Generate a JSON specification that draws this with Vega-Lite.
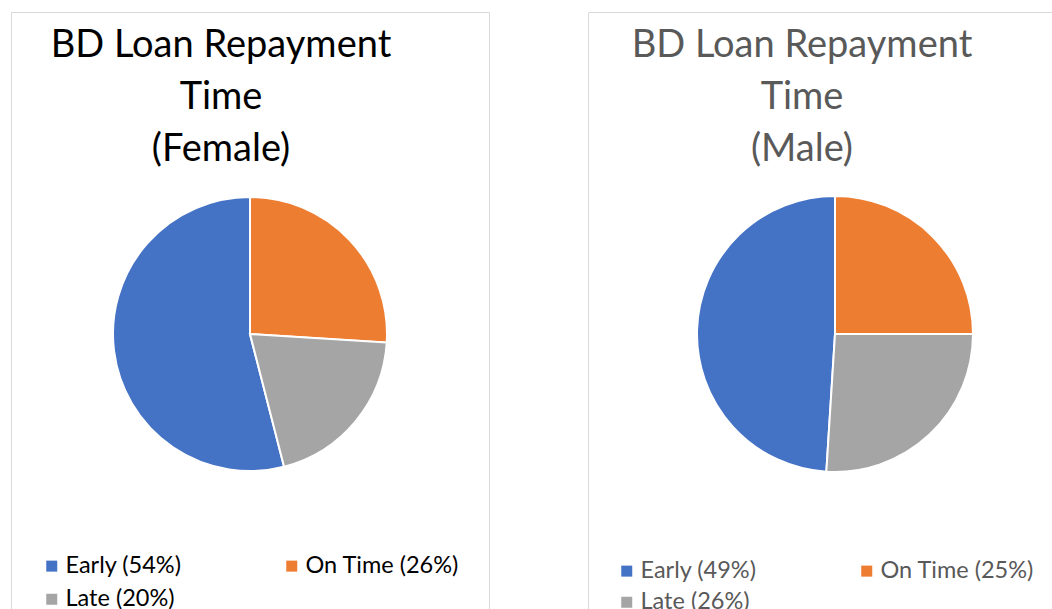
{
  "$schema": "https://vega.github.io/schema/vega-lite/v6.json",
  "background": "white",
  "padding": {"left": 10, "top": 11, "right": 0, "bottom": 0},
  "autosize": {"type": "pad"},
  "datasets": {
    "loans": [
      {"gender": "Female", "category": "Early", "label": "Early (54%)", "pct": 54, "ord": 3},
      {"gender": "Female", "category": "On Time", "label": "On Time (26%)", "pct": 26, "ord": 1},
      {"gender": "Female", "category": "Late", "label": "Late (20%)", "pct": 20, "ord": 2},
      {"gender": "Male", "category": "Early", "label": "Early (49%)", "pct": 49, "ord": 3},
      {"gender": "Male", "category": "On Time", "label": "On Time (25%)", "pct": 25, "ord": 1},
      {"gender": "Male", "category": "Late", "label": "Late (26%)", "pct": 26, "ord": 2}
    ]
  },
  "spacing": 97,
  "hconcat": [
    {
      "width": 478,
      "height": 644,
      "view": {"stroke": "#d9d9d9", "strokeWidth": 1, "fill": "white"},
      "data": {"name": "loans"},
      "transform": [{"filter": "datum.gender === 'Female'"}],
      "title": {
        "text": ["BD Loan Repayment", "Time", "(Female)"],
        "color": "#000000",
        "dx": -29,
        "offset": -157,
        "baseline": "top"
      },
      "mark": {"type": "arc", "outerRadius": 137, "stroke": "white", "strokeWidth": 2},
      "encoding": {
        "theta": {"field": "pct", "type": "quantitative", "stack": true},
        "order": {"field": "ord", "type": "quantitative"},
        "color": {
          "field": "label",
          "type": "nominal",
          "scale": {"domain": ["Early (54%)", "On Time (26%)", "Late (20%)"], "range": ["#4472C4", "#ED7D31", "#A5A5A5"]},
          "legend": {"orient": "none", "legendX": 29, "legendY": 542, "labelColor": "#000000", "rowPadding": 8.5, "columnPadding": 98}
        }
      }
    },
    {
      "width": 494,
      "height": 644,
      "view": {"stroke": "#d9d9d9", "strokeWidth": 1, "fill": "white"},
      "data": {"name": "loans"},
      "transform": [{"filter": "datum.gender === 'Male'"}],
      "title": {
        "text": ["BD Loan Repayment", "Time", "(Male)"],
        "color": "#595959",
        "dx": -33,
        "offset": -157,
        "baseline": "top"
      },
      "mark": {"type": "arc", "outerRadius": 138, "stroke": "white", "strokeWidth": 2},
      "encoding": {
        "theta": {"field": "pct", "type": "quantitative", "stack": true},
        "order": {"field": "ord", "type": "quantitative"},
        "color": {
          "field": "label",
          "type": "nominal",
          "scale": {"domain": ["Early (49%)", "On Time (25%)", "Late (26%)"], "range": ["#4472C4", "#ED7D31", "#A5A5A5"]},
          "legend": {"orient": "none", "legendX": 27, "legendY": 547, "labelColor": "#595959", "rowPadding": 6.5, "columnPadding": 98}
        }
      }
    }
  ],
  "resolve": {"scale": {"color": "independent"}, "legend": {"color": "independent"}},
  "config": {
    "view": {"stroke": "#d9d9d9", "strokeWidth": 1},
    "title": {"font": "Lato", "fontSize": 38, "fontWeight": "normal", "anchor": "middle", "lineHeight": 52, "frame": "group"},
    "legend": {
      "title": null,
      "direction": "horizontal",
      "columns": 2,
      "symbolType": "square",
      "symbolSize": 121,
      "symbolStrokeWidth": 0,
      "labelFont": "Lato",
      "labelFontSize": 23.5,
      "labelOffset": 2,
      "labelLimit": 400,
      "padding": 0
    }
  }
}
